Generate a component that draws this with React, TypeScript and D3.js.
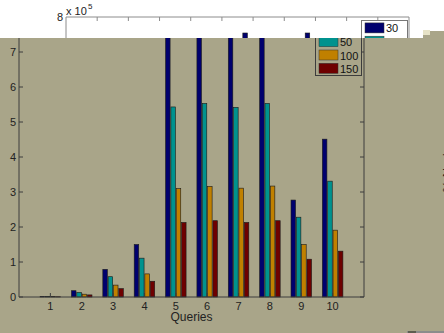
import * as d3 from "d3";

// values in units of 1e5
const queries = ["1", "2", "3", "4", "5", "6", "7", "8", "9", "10"];
const seriesNames = ["30", "50", "100", "150"];
const s30 = [0.02, 0.18, 0.79, 1.5, 7.45, 7.6, 7.45, 7.6, 2.77, 4.51];
const s50 = [0.015, 0.13, 0.58, 1.11, 5.43, 5.53, 5.42, 5.53, 2.28, 3.31];
const s100 = [0.01, 0.08, 0.34, 0.66, 3.1, 3.16, 3.11, 3.17, 1.5, 1.91];
const s150 = [0.008, 0.06, 0.24, 0.45, 2.13, 2.18, 2.13, 2.18, 1.08, 1.31];
const yTicks = [0, 1, 2, 3, 4, 5, 6, 7, 8];
const colors = ["#00006e", "#00928e", "#c08000", "#6e0000"];

const W = 444;
const H = 333;
const khaki = "#a9a589";
const font = "Liberation Sans, Arial, sans-serif";
const allSeries = [s30, s50, s100, s150];

export default function App() {
  // foreground (khaki) axes
  const x = d3.scaleLinear().domain([0, 11]).range([19, 364]);
  const y = d3.scaleLinear().domain([0, 8]).range([297, 17]);
  // background (white) axes, mostly hidden
  const xb = d3.scaleLinear().domain([0, 11]).range([66, 409]);
  const yb = d3.scaleLinear().domain([0, 8]).range([337, 17]);
  const slot = 5.33;

  const bars = (xs: d3.ScaleLinear<number, number>, ys: d3.ScaleLinear<number, number>, key: string) =>
    allSeries.map((s, si) =>
      s.map((v, i) => {
        const cx = xs(i + 1);
        const x0 = cx - 2 * slot + si * slot;
        return (
          <rect
            key={key + si + "-" + i}
            x={x0 + 0.4}
            y={ys(v)}
            width={slot - 0.8}
            height={ys(0) - ys(v)}
            fill={colors[si]}
            stroke="#1a1a1a"
            strokeWidth={0.6}
          />
        );
      })
    );

  const axisColor = "#3c3c3c";
  const legendY = [28.4, 41.7, 55, 68.3];

  return (
    <svg width={W} height={H} style={{ position: "absolute", left: 0, top: 0 }} fontFamily={font}>
      <defs>
        <clipPath id="topClip">
          <rect x={0} y={0} width={W} height={38} />
        </clipPath>
        <clipPath id="fgClip">
          <rect x={0} y={38} width={W} height={H - 38} />
        </clipPath>
      </defs>
      <rect x={0} y={0} width={W} height={H} fill="#fff" />

      {/* background figure */}
      <g clipPath="url(#topClip)">
        {bars(xb, yb, "b")}
        <path d={`M${xb(0)},38V${yb(8)}H${xb(11)}V38`} fill="none" stroke="#8c8c8c" />
        {d3.range(1, 11).map((k) => (
          <line key={k} x1={xb(k)} x2={xb(k)} y1={yb(8)} y2={yb(8) + 4} stroke="#8c8c8c" />
        ))}
        <text x={63} y={21} fontSize={11} textAnchor="end" fill="#222">8</text>
        <text x={66} y={15} fontSize={11} fill="#222">x 10</text>
        <text x={88} y={9} fontSize={8} fill="#222">5</text>
        <rect x={361.5} y={20.5} width={46} height={60} fill="#fff" stroke="#777" />
        {seriesNames.map((n, i) => (
          <g key={n}>
            <rect x={365} y={legendY[i] - 6 + 0.5} width={19} height={10} fill={colors[i]} stroke="#333" strokeWidth={0.5} />
            <text x={386} y={legendY[i] + 4} fontSize={11} fill="#111">{n}</text>
          </g>
        ))}
      </g>

      {/* foreground figure */}
      <g clipPath="url(#fgClip)">
        <rect x={0} y={38} width={W} height={H - 38} fill={khaki} />
        {bars(x, y, "f")}
        <path d={`M${x(0)},${y(8)}V${y(0)}H${x(11)}V${y(8)}`} fill="none" stroke={axisColor} />
        {yTicks.map((t) => (
          <g key={t}>
            <line x1={x(0)} x2={x(0) + 4} y1={y(t)} y2={y(t)} stroke={axisColor} />
            <line x1={x(11)} x2={x(11) - 4} y1={y(t)} y2={y(t)} stroke={axisColor} />
            <text x={16} y={y(t) + 4} fontSize={11} textAnchor="end" fill="#222">{t}</text>
          </g>
        ))}
        {queries.map((q, i) => (
          <g key={q}>
            <line x1={x(i + 1)} x2={x(i + 1)} y1={y(0)} y2={y(0) - 4} stroke={axisColor} />
            <text x={x(i + 1)} y={309.5} fontSize={11} textAnchor="middle" fill="#222">{q}</text>
          </g>
        ))}
        <text x={(x(0) + x(11)) / 2} y={321} fontSize={12} textAnchor="middle" fill="#222">Queries</text>
        <rect x={315.5} y={15.5} width={46} height={60} fill={khaki} stroke={axisColor} />
        {seriesNames.map((n, i) => (
          <g key={n}>
            <rect x={319} y={legendY[i] - 5.5 + 0.5} width={19} height={10} fill={colors[i]} stroke="#333" strokeWidth={0.5} />
            <text x={340} y={legendY[i] + 4.5} fontSize={11} fill="#111">{n}</text>
          </g>
        ))}
        <text transform="translate(452,166) rotate(-90)" fontSize={13} textAnchor="middle" fill="#222">% Nodes</text>
      </g>
      <rect x={423} y={31} width={21} height={8} fill={khaki} />
      <rect x={423} y={30} width={7} height={5} fill="#e6e2c6" />
      <rect x={407} y={331} width={37} height={2} fill="#8c8c8c" />
      <rect x={408} y={331} width={8} height={2} fill="#5e5e50" />
    </svg>
  );
}
